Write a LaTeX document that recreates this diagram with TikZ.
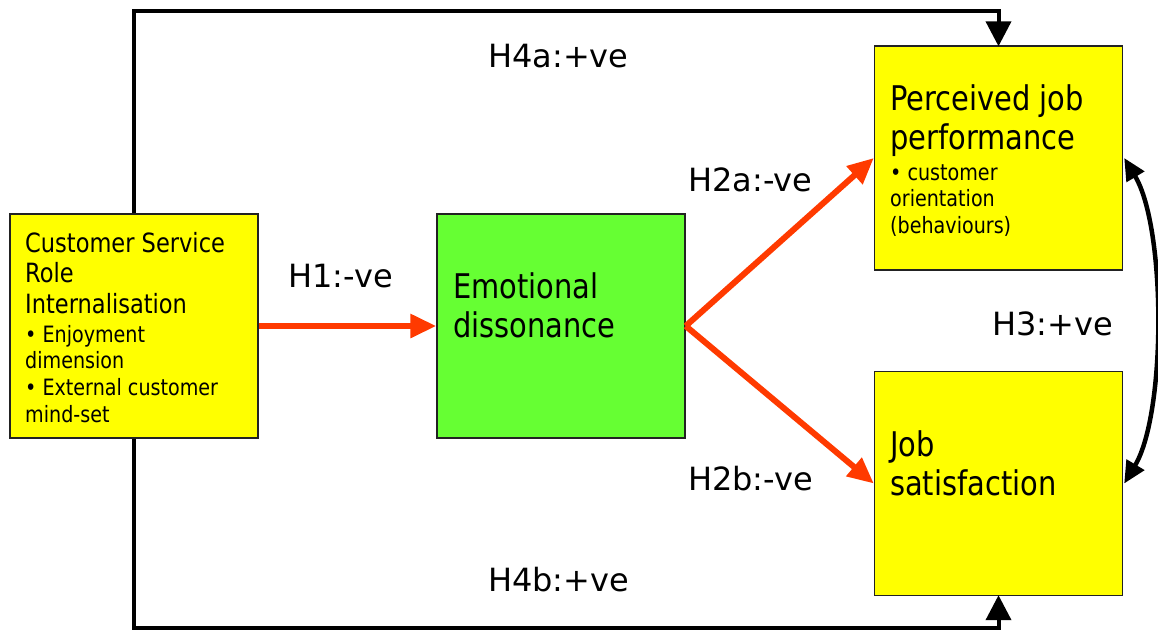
\documentclass[tikz,border=0pt]{standalone}
\usepackage{fontspec}
\setmainfont{DejaVu Sans}[FakeStretch=0.85]
\newfontfamily\labelfont{DejaVu Sans}
\usetikzlibrary{arrows.meta}
\definecolor{boxyellow}{HTML}{FFFF00}
\definecolor{boxgreen}{HTML}{66FF33}
\definecolor{linkred}{HTML}{FF3A00}
\definecolor{boxedge}{HTML}{222222}
% first-line strut: the top of a text block sits one font size above its first baseline
\newcommand{\firstline}{\rule{0pt}{1em}}
\begin{document}
\begin{tikzpicture}[x=1pt,y=-1pt,
  box/.style={draw=boxedge, line width=1.4pt, inner sep=0pt,
              minimum width=248pt, minimum height=224pt},
  boxtext/.style={anchor=north west, inner sep=0pt, align=left},
  title/.style={boxtext, font=\fontsize{34}{39.5}\selectfont},
  bullets/.style={boxtext, font=\fontsize{22.5}{26.6}\selectfont},
  hyp/.style={anchor=base west, inner sep=0pt, font=\labelfont\fontsize{32}{38}\selectfont},
  effect/.style={draw=linkred, line width=6pt,
                 -{Triangle[length=26pt,width=23pt]}},
  feedback/.style={draw=black, line width=4pt,
                   -{Triangle[length=25pt,width=25pt]}},
  mutual/.style={draw=black, line width=4.5pt,
                 {Triangle[length=22pt,width=20pt]}-{Triangle[length=22pt,width=20pt]}}]
\useasboundingbox (0,0) rectangle (1158,630);

% boxes
\node[box, fill=boxyellow] (csr) at (134,326) {};
\node[box, fill=boxgreen]  (ed)  at (561,326) {};
\node[box, fill=boxyellow] (pjp) at (998.5,158) {};
\node[box, fill=boxyellow] (js)  at (998.5,483.5) {};

% box contents
\node[boxtext, font=\fontsize{26.5}{30.5}\selectfont] (csrhead) at (25,225.5)
  {\firstline Customer Service\\Role\\Internalisation};
\node[bullets] (csrlist) at (25,319.5)
  {\firstline • Enjoyment\\dimension\\• External customer\\mind-set};
\node[title] (edtext) at (453,264) {\firstline Emotional\\dissonance};
\node[title] (pjptext) at (890,76) {\firstline Perceived job\\performance};
\node[bullets] (pjplist) at (890,157.5)
  {\firstline • customer\\orientation\\(behaviours)};
\node[title] (jstext) at (890,422) {\firstline Job\\satisfaction};

% hypothesised paths
\draw[effect] (csr.east) -- (ed.west);
\draw[effect] (ed.east) -- (pjp.west);
\draw[effect] (ed.east) -- (js.west);
\draw[feedback] (csr.north) -- ++(0,-202) -| ([yshift=-1pt]pjp.north);
\draw[feedback] (csr.south) -- ++(0,189) -| ([yshift=1pt]js.south);
\draw[mutual] ([xshift=1pt]pjp.east) .. controls +(42,70) and +(42,-70) .. ([xshift=1pt]js.east);

% hypothesis labels
\node[hyp] (h4a) at (488,67)  {H4a:+ve};
\node[hyp] (h1)  at (288,287) {H1:-ve};
\node[hyp] (h2a) at (688,191) {H2a:-ve};
\node[hyp] (h2b) at (688,490) {H2b:-ve};
\node[hyp] (h3)  at (992,335) {H3:+ve};
\node[hyp] (h4b) at (488,591) {H4b:+ve};
\end{tikzpicture}
\end{document}
